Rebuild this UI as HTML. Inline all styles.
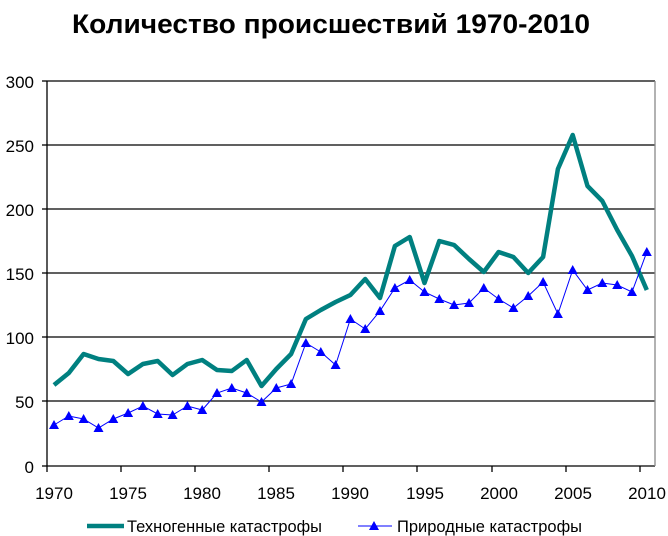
<!DOCTYPE html>
<html><head><meta charset="utf-8"><style>
html,body{margin:0;padding:0;background:#fff;}
svg{display:block;font-family:"Liberation Sans",Arial,sans-serif;}
</style></head><body>
<svg width="668" height="536" viewBox="0 0 668 536" xmlns="http://www.w3.org/2000/svg">
<text x="331" y="33" text-anchor="middle" font-size="27" font-weight="bold" textLength="518" lengthAdjust="spacingAndGlyphs">Количество происшествий 1970-2010</text>
<g stroke="#000" stroke-width="1.3">
<line x1="47" y1="81" x2="655" y2="81"/>
<line x1="47" y1="145" x2="655" y2="145"/>
<line x1="47" y1="209" x2="655" y2="209"/>
<line x1="47" y1="273" x2="655" y2="273"/>
<line x1="47" y1="337" x2="655" y2="337"/>
<line x1="47" y1="401" x2="655" y2="401"/>
<line x1="47" y1="466" x2="655" y2="466"/>
<line x1="47" y1="81" x2="47" y2="466"/>
</g>
<line x1="655" y1="81" x2="655" y2="466" stroke="#888" stroke-width="1.3"/>
<g stroke="#000" stroke-width="1.3">
<line x1="42" y1="81" x2="47" y2="81"/><line x1="42" y1="145" x2="47" y2="145"/><line x1="42" y1="209" x2="47" y2="209"/><line x1="42" y1="273" x2="47" y2="273"/><line x1="42" y1="337" x2="47" y2="337"/><line x1="42" y1="401" x2="47" y2="401"/><line x1="42" y1="466" x2="47" y2="466"/>
<line x1="47" y1="466" x2="47" y2="472"/><line x1="121" y1="466" x2="121" y2="472"/><line x1="195" y1="466" x2="195" y2="472"/><line x1="269" y1="466" x2="269" y2="472"/><line x1="343" y1="466" x2="343" y2="472"/><line x1="417" y1="466" x2="417" y2="472"/><line x1="492" y1="466" x2="492" y2="472"/><line x1="566" y1="466" x2="566" y2="472"/><line x1="640" y1="466" x2="640" y2="472"/>
</g>
<g font-size="17" text-anchor="end">
<text x="34" y="88">300</text><text x="34" y="152">250</text><text x="34" y="216">200</text><text x="34" y="280">150</text><text x="34" y="344">100</text><text x="34" y="408">50</text><text x="34" y="473">0</text>
</g>
<g font-size="17" text-anchor="middle">
<text x="54" y="499">1970</text><text x="128" y="499">1975</text><text x="202" y="499">1980</text><text x="276" y="499">1985</text><text x="350" y="499">1990</text><text x="425" y="499">1995</text><text x="499" y="499">2000</text><text x="573" y="499">2005</text><text x="647" y="499">2010</text>
</g>
<polyline fill="none" stroke="#008080" stroke-width="4.5" stroke-linejoin="round" points="54,385 68.8,373 83.6,354 98.5,359 113.3,361 128.1,374 142.9,364 157.7,361 172.6,375 187.4,364 202.2,360 217,370 231.8,371 246.7,360 261.5,386 276.3,369 291.1,354 305.9,319 320.8,310 335.6,302 350.4,295 365.2,279 380,298 394.9,246 409.7,237 424.5,283 439.3,241 454.1,245 469,259 483.8,272 498.6,252 513.4,257 528.2,273 543.1,257 557.9,169 572.7,135 587.5,186 602.3,201 617.2,230 632,256 646.8,290"/>
<polyline fill="none" stroke="#0000ff" stroke-width="1" points="54,425 68.8,416 83.6,419 98.5,428 113.3,419 128.1,413 142.9,406 157.7,414 172.6,415 187.4,406 202.2,410 217,393 231.8,388 246.7,393 261.5,402 276.3,388 291.1,384 305.9,343 320.8,352 335.6,365 350.4,319 365.2,329 380,311 394.9,288 409.7,280 424.5,292 439.3,299 454.1,305 469,303 483.8,288 498.6,299 513.4,308 528.2,296 543.1,282 557.9,314 572.7,270 587.5,290 602.3,283 617.2,285 632,292 646.8,252"/>
<g fill="#0000ff">
<path d="M54,420l-5,9h10z M68.8,411l-5,9h10z M83.6,414l-5,9h10z M98.5,423l-5,9h10z M113.3,414l-5,9h10z M128.1,408l-5,9h10z M142.9,401l-5,9h10z M157.7,409l-5,9h10z M172.6,410l-5,9h10z M187.4,401l-5,9h10z M202.2,405l-5,9h10z M217,388l-5,9h10z M231.8,383l-5,9h10z M246.7,388l-5,9h10z M261.5,397l-5,9h10z M276.3,383l-5,9h10z M291.1,379l-5,9h10z M305.9,338l-5,9h10z M320.8,347l-5,9h10z M335.6,360l-5,9h10z M350.4,314l-5,9h10z M365.2,324l-5,9h10z M380,306l-5,9h10z M394.9,283l-5,9h10z M409.7,275l-5,9h10z M424.5,287l-5,9h10z M439.3,294l-5,9h10z M454.1,300l-5,9h10z M469,298l-5,9h10z M483.8,283l-5,9h10z M498.6,294l-5,9h10z M513.4,303l-5,9h10z M528.2,291l-5,9h10z M543.1,277l-5,9h10z M557.9,309l-5,9h10z M572.7,265l-5,9h10z M587.5,285l-5,9h10z M602.3,278l-5,9h10z M617.2,280l-5,9h10z M632,287l-5,9h10z M646.8,247l-5,9h10z"/>
</g>
<line x1="87" y1="526" x2="124" y2="526" stroke="#008080" stroke-width="4.5"/>
<text x="127" y="532" font-size="16.5" textLength="195" lengthAdjust="spacingAndGlyphs">Техногенные катастрофы</text>
<line x1="358" y1="526" x2="392" y2="526" stroke="#0000ff" stroke-width="1"/>
<path d="M374,521l-5,9h10z" fill="#0000ff"/>
<text x="397" y="532" font-size="16.5" textLength="185" lengthAdjust="spacingAndGlyphs">Природные катастрофы</text>
</svg>
</body></html>
